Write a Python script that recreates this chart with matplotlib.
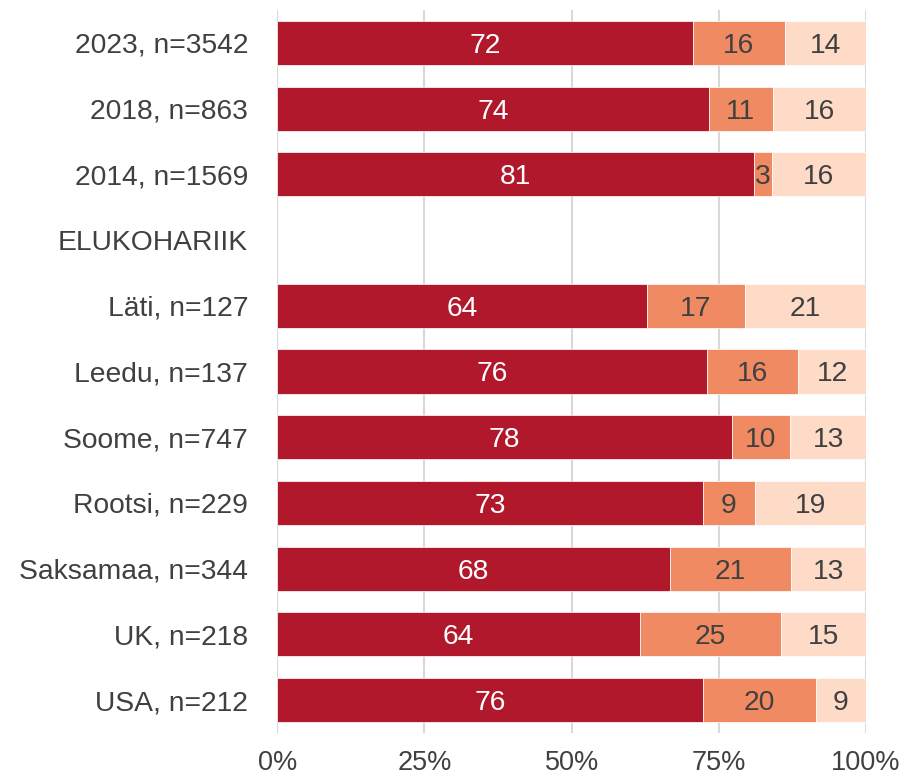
import matplotlib.pyplot as plt
import numpy as np

plt.rcParams['font.family'] = ['Liberation Sans', 'DejaVu Sans']

labels = ['2023, n=3542', '2018, n=863', '2014, n=1569', 'ELUKOHARIIK',
          'Läti, n=127', 'Leedu, n=137', 'Soome, n=747', 'Rootsi, n=229',
          'Saksamaa, n=344', 'UK, n=218', 'USA, n=212']
s1 = [72, 74, 81, 0, 64, 76, 78, 73, 68, 64, 76]
s2 = [16, 11, 3, 0, 17, 16, 10, 9, 21, 25, 20]
s3 = [14, 16, 16, 0, 21, 12, 13, 19, 13, 15, 9]

colors = ['#B2182B', '#EF8A62', '#FDDBC7']
txtcol = ['white', '#404040', '#404040']
fs = 20.3

fig = plt.figure(figsize=(9.03, 7.78), dpi=100)
ax = fig.add_axes([0.307, 0.058, 0.652, 0.929])

y = np.arange(len(labels))
data = np.array([s1, s2, s3], dtype=float)
tot = data.sum(axis=0)
tot[tot == 0] = 1
share = data / tot
keep = data.sum(axis=0) > 0

left = np.zeros(len(labels))
for k in range(3):
    ax.barh(y[keep], share[k][keep], left=left[keep], height=0.67, color=colors[k],
            edgecolor='white', linewidth=0.5, zorder=3)
    for i in range(len(labels)):
        if data[k, i] > 0:
            ax.text(left[i] + share[k, i] / 2, y[i], '%d' % data[k, i],
                    ha='center', va='center_baseline', color=txtcol[k],
                    fontsize=fs, zorder=4)
    left += share[k]

ax.set_ylim(len(labels) - 0.5, -0.5)
ax.set_xlim(0, 1)
ax.set_yticks(y)
ax.set_yticklabels(labels, fontsize=fs, color='#404040')
for t in ax.get_yticklabels():
    t.set_verticalalignment('center_baseline')
ax.set_xticks([0, 0.25, 0.5, 0.75, 1])
ax.set_xticklabels(['0%', '25%', '50%', '75%', '100%'], fontsize=19.5, color='#404040')
ax.tick_params(axis='y', length=0, pad=21)
ax.tick_params(axis='x', length=0, pad=12)
ax.grid(axis='x', color='#D9D9D9', linewidth=1.5, zorder=0)
for sp in ax.spines.values():
    sp.set_visible(False)

fig.savefig('out.png', dpi=100)
